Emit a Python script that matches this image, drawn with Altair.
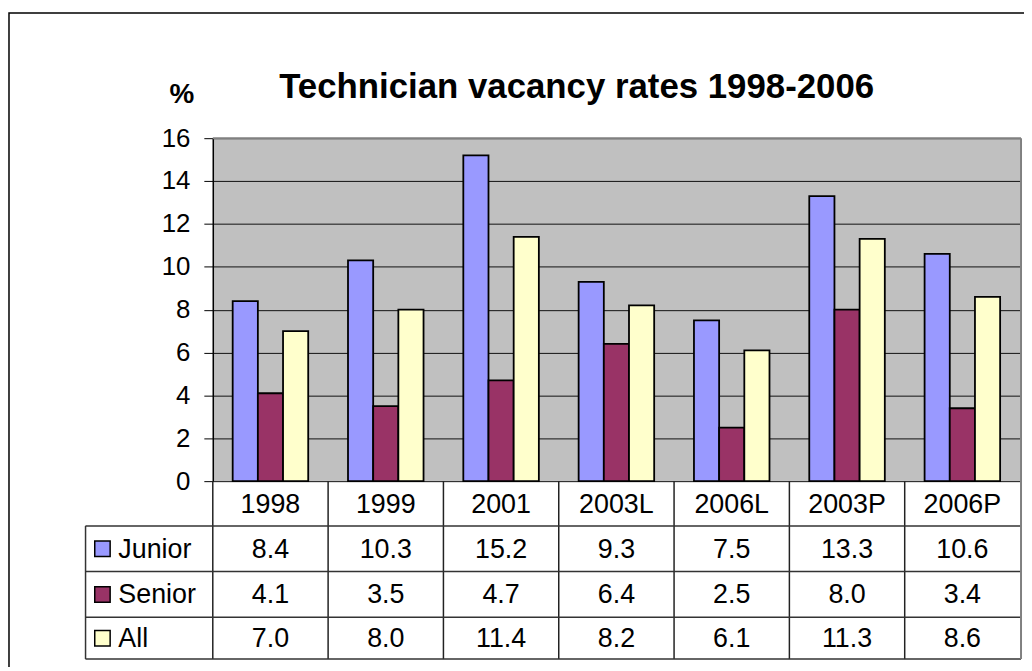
import altair as alt
import pandas as pd

categories = ["1998", "1999", "2001", "2003L", "2006L", "2003P", "2006P"]
series = ["Junior", "Senior", "All"]
junior = [8.4, 10.3, 15.2, 9.3, 7.5, 13.3, 10.6]
senior = [4.1, 3.5, 4.7, 6.4, 2.5, 8.0, 3.4]
all_ = [7.0, 8.0, 11.4, 8.2, 6.1, 11.3, 8.6]
colors = ["#9999FF", "#993366", "#FFFFCC"]
y_ticks = [0, 2, 4, 6, 8, 10, 12, 14, 16]

rows = []
for s, vals in zip(series, [junior, senior, all_]):
    for c, v in zip(categories, vals):
        rows.append({"category": c, "series": s, "value": v})
df = pd.DataFrame(rows)

FONT = "Liberation Sans"
TFS = 27
W, H = 812, 345
row_y = {"Junior": 414, "Senior": 460, "All": 504}
header_y = 369
line_ys = [390, 436, 482, 524]

xsc = alt.Scale(domain=categories, paddingInner=0, paddingOuter=0)
xenc = alt.X("category:N", scale=xsc, axis=None, sort=categories)
csc = alt.Scale(domain=series, range=colors)

base = alt.Chart(df)

bars = base.mark_bar(stroke="black", strokeWidth=1.8).encode(
    x=xenc,
    xOffset=alt.XOffset("series:N", scale=alt.Scale(domain=series, paddingOuter=0.79, paddingInner=0), sort=series),
    y=alt.Y("value:Q", scale=alt.Scale(domain=[0, 16], nice=False),
            axis=alt.Axis(values=y_ticks, title=None, grid=True, gridColor="#111", gridWidth=1,
                          domainColor="black", domainWidth=1.5, tickColor="black", tickSize=9,
                          labelFontSize=26, labelFont=FONT, labelColor="black", labelPadding=14,
                          format="d")),
    color=alt.Color("series:N", scale=csc, legend=None),
)

cat_df = pd.DataFrame({"category": categories})

header = alt.Chart(cat_df).mark_text(fontSize=TFS, font=FONT, color="black", baseline="middle").encode(
    x=alt.X("category:N", scale=xsc, axis=None, sort=categories, bandPosition=0.5),
    y=alt.value(header_y), text="category:N")

vlines = alt.Chart(cat_df).mark_rule(color="#222", strokeWidth=1.5).encode(
    x=alt.X("category:N", scale=xsc, axis=None, sort=categories, bandPosition=0),
    y=alt.value(H), y2=alt.value(line_ys[-1]))

layers = [bars, header, vlines]

for s in series:
    txt = base.transform_filter(alt.datum.series == s).mark_text(
        fontSize=TFS, font=FONT, color="black", baseline="middle").encode(
        x=alt.X("category:N", scale=xsc, axis=None, sort=categories, bandPosition=0.5),
        y=alt.value(row_y[s]), text=alt.Text("value:Q", format=".1f"))
    sw = alt.Chart(pd.DataFrame({"series": [s]})).mark_square(size=240, stroke="black", strokeWidth=1.5, opacity=1).encode(
        x=alt.value(-111), y=alt.value(row_y[s] - 1),
        fill=alt.Color("series:N", scale=csc, legend=None))
    lab = alt.Chart(pd.DataFrame({"series": [s]})).mark_text(
        fontSize=TFS, font=FONT, color="black", align="left", baseline="middle").encode(
        x=alt.value(-95), y=alt.value(row_y[s]), text="series:N")
    layers += [txt, sw, lab]

deco = pd.DataFrame({"k": [0]})
for yy in line_ys:
    layers.append(alt.Chart(deco).mark_rule(color="#333", strokeWidth=1.5).encode(
        x=alt.value(-128), x2=alt.value(W + 1), y=alt.value(yy)))
layers.append(alt.Chart(deco).mark_rule(color="#333", strokeWidth=1.5).encode(
    x=alt.value(-128), y=alt.value(line_ys[0]), y2=alt.value(line_ys[-1])))
layers.append(alt.Chart(deco).mark_rule(color="#808080", strokeWidth=2).encode(
    x=alt.value(W + 1), y=alt.value(0), y2=alt.value(line_ys[-1])))
layers.append(alt.Chart(deco).mark_rule(color="#808080", strokeWidth=2).encode(
    x=alt.value(0), x2=alt.value(W + 1), y=alt.value(0)))
# outer frame
layers.append(alt.Chart(deco).mark_rect(fill=None, fillOpacity=0, stroke="black", strokeWidth=1.5).encode(
    x=alt.value(-205), x2=alt.value(W + 60), y=alt.value(-126), y2=alt.value(H + 260)))
# title and unit
layers.append(alt.Chart(deco).mark_text(fontSize=35, fontWeight="bold", font=FONT, color="black",
                                          baseline="middle").encode(
    x=alt.value(366), y=alt.value(-51), text=alt.value("Technician vacancy rates 1998-2006")))
layers.append(alt.Chart(deco).mark_text(fontSize=28, fontWeight="bold", font=FONT, color="black",
                                          baseline="middle").encode(
    x=alt.value(-31), y=alt.value(-43), text=alt.value("%")))

chart = alt.layer(*layers).properties(
    width=W, height=H,
    autosize=alt.AutoSizeParams(type="none"),
    padding={"left": 206, "top": 129, "right": 4, "bottom": 185},
    background="white",
).configure_view(fill="#C0C0C0", stroke=None)

chart.save("out.html", embed_options={"renderer": "svg", "actions": False})
